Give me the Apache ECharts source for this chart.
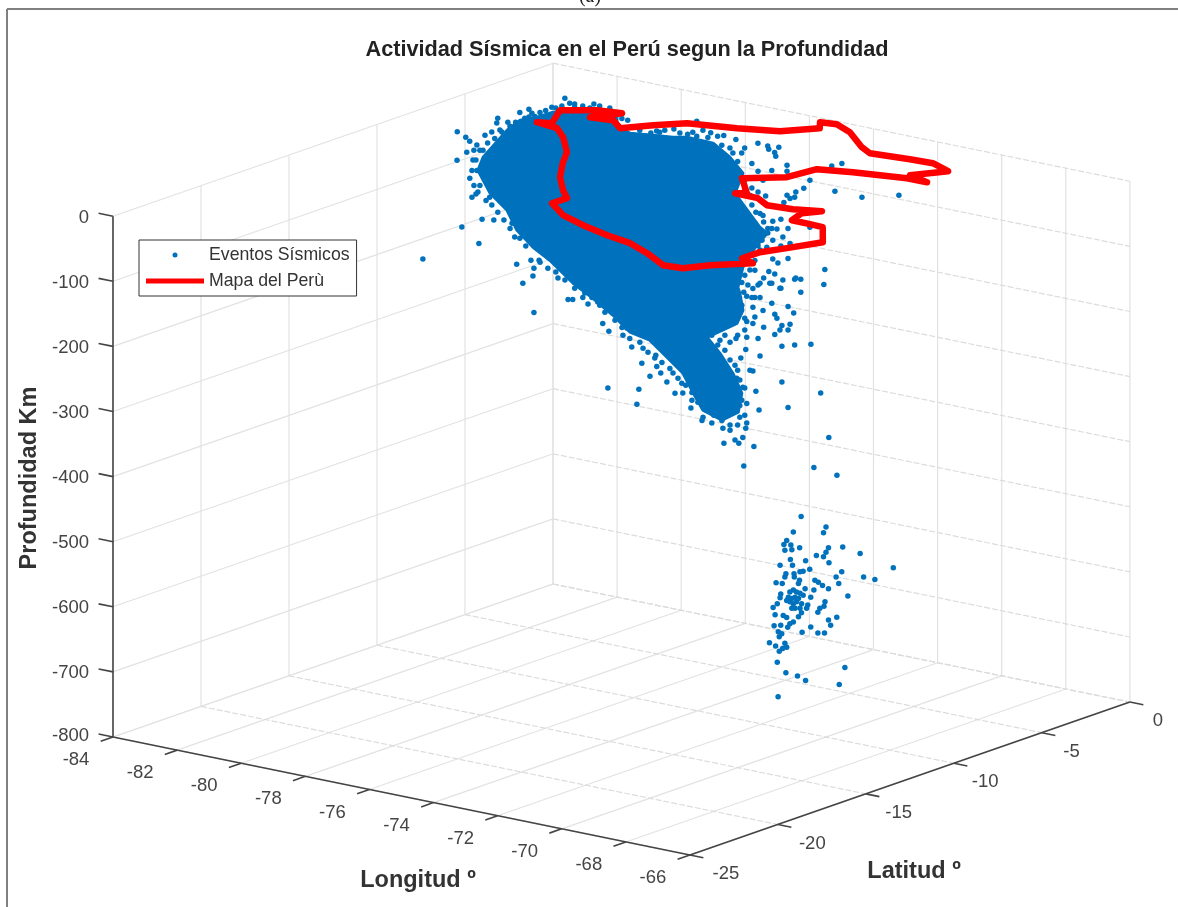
<!DOCTYPE html>
<html><head><meta charset="utf-8">
<style>html,body{margin:0;padding:0;background:#fff}#c{width:1178px;height:907px}</style>
<script src="https://cdn.jsdelivr.net/npm/echarts@6/dist/echarts.min.js"></script>
</head><body><div id="c"></div>
<script>
// Axis ticks
const lonTicks=[-84,-82,-80,-78,-76,-74,-72,-70,-68,-66];
const latTicks=[-25,-20,-15,-10,-5,0];
const depthTicks=[0,-100,-200,-300,-400,-500,-600,-700,-800];

// Peru outline at depth 0: [lon, lat]
const peruOutline=[[-80.98,-6.41],[-80.25,-6.60],[-79.62,-7.40],[-78.70,-8.86],[-78.16,-10.08],[-77.42,-11.58],[-76.63,-12.85],[-76.10,-13.59],[-76.11,-14.42],[-75.22,-15.42],[-74.26,-16.03],[-73.22,-16.55],[-72.32,-16.89],[-71.42,-17.56],[-70.43,-18.46],[-69.87,-18.35],[-69.51,-17.47],[-68.78,-16.36],[-69.27,-16.08],[-69.26,-15.08],[-68.96,-14.10],[-68.59,-12.73],[-69.44,-11.19],[-69.86,-11.15],[-70.44,-11.12],[-70.64,-10.19],[-70.36,-9.56],[-71.04,-9.97],[-71.78,-10.10],[-72.35,-9.57],[-73.08,-9.54],[-72.85,-9.29],[-73.79,-7.85],[-72.97,-6.80],[-72.83,-5.35],[-71.95,-4.90],[-70.55,-4.38],[-69.93,-4.37],[-70.66,-4.01],[-70.14,-2.79],[-70.89,-2.29],[-71.57,-2.36],[-72.69,-2.59],[-73.19,-2.14],[-74.27,-0.85],[-74.98,-0.30],[-75.42,-0.45],[-75.09,-1.07],[-75.70,-2.22],[-76.72,-2.81],[-77.98,-3.35],[-78.53,-4.27],[-79.01,-5.28],[-79.60,-4.60],[-80.22,-4.78],[-79.82,-3.69],[-80.48,-3.91],[-81.21,-4.69],[-80.63,-6.19],[-80.98,-6.41]];

// Boundary of the region where events overlap into solid colour: [lon, lat, depth]
const denseCloudOutline=[[-80.90,-9.91,-40],[-81.53,-8.47,-40],[-81.85,-6.52,-20],[-82.16,-5.22,-20],[-82.00,-4.55,-20],[-81.97,-3.70,-20],[-81.30,-2.99,-20],[-80.71,-2.36,-20],[-79.86,-3.90,-20],[-79.27,-4.24,-20],[-78.70,-3.96,-20],[-78.20,-3.75,-20],[-77.92,-3.45,-20],[-77.07,-3.52,-20],[-75.95,-4.61,-20],[-74.79,-5.98,-20],[-73.82,-8.20,-20],[-72.83,-9.43,-20],[-71.41,-11.18,-20],[-70.93,-11.64,-20],[-73.18,-8.34,-100],[-72.42,-10.30,-100],[-71.39,-12.46,-100],[-71.01,-13.04,-100],[-69.99,-14.72,-100],[-69.37,-16.19,-100],[-69.27,-17.22,-100],[-71.01,-14.90,-150],[-69.86,-16.27,-150],[-70.31,-14.71,-200],[-69.01,-16.57,-200],[-69.84,-15.26,-250],[-69.71,-16.42,-250],[-70.65,-15.79,-250],[-72.00,-13.97,-250],[-71.29,-15.76,-200],[-70.67,-17.80,-150],[-71.97,-16.41,-150],[-72.81,-16.00,-150],[-72.26,-17.97,-100],[-73.61,-16.65,-100],[-74.85,-15.52,-100],[-75.14,-16.32,-60],[-76.20,-15.34,-60],[-77.48,-13.92,-60],[-78.07,-13.41,-40],[-79.36,-12.02,-40]];

// Individual events: [lon, lat, depth]
const northEdgeEvents=[[-84.00,-5.44,-54],[-83.85,-5.23,-63],[-83.77,-5.15,-69],[-83.63,-5.00,-75],[-83.47,-4.83,-60],[-83.34,-4.68,-55],[-83.22,-4.56,-34],[-83.24,-4.58,-41],[-83.02,-4.35,-40],[-82.79,-4.09,-25],[-82.61,-3.90,-20],[-82.61,-3.90,-32],[-82.49,-3.78,-31],[-82.16,-3.42,-17],[-81.90,-3.15,-3],[-81.81,-3.04,-11],[-81.55,-2.77,-15],[-81.33,-2.54,-12],[-80.67,-1.82,-37],[-83.57,-4.94,-83],[-83.18,-4.51,-52],[-83.83,-5.21,-86],
[-83.51,-4.87,-83],[-83.42,-4.77,-72],[-83.28,-4.62,-65],[-83.14,-4.47,-55],[-82.98,-4.30,-46],[-82.87,-4.18,-40],[-82.69,-3.99,-34],[-82.55,-3.84,-26],[-82.39,-3.67,-25],[-82.28,-3.55,-22],[-82.08,-3.34,-18],[-81.96,-3.21,-15],[-81.71,-2.94,-17],[-81.41,-2.62,-18],[-81.22,-2.41,-22],[-81.02,-2.20,-18],[-80.78,-1.95,-34],[-81.22,-2.41,-15],[-81.71,-2.94,-12],[-83.69,-5.06,-83],
[-77.90,-2.94,0],[-78.80,-3.91,-18],[-78.69,-3.78,-15],[-78.53,-3.61,-14],[-78.35,-3.42,-12],[-78.08,-3.13,-20],[-77.90,-2.94,-23],[-77.78,-2.81,-14],[-77.63,-2.64,-18],[-77.49,-2.50,-23],[-77.37,-2.37,-22],[-77.13,-2.12,-28],[-76.70,-1.65,-34],[-76.51,-1.44,-38],[-76.49,-1.42,-43],[-76.29,-1.21,-40],[-76.37,-1.30,-48],[-77.19,-2.18,-49],
[-79.02,-4.14,-14],[-78.63,-3.72,-17],[-78.23,-3.30,-18],[-77.98,-3.02,-17],[-77.68,-2.71,-25],[-77.41,-2.41,-37],[-77.25,-2.24,-41],[-77.02,-1.99,-49],[-76.96,-1.93,-41]];
const eastEdgeEvents=[[-74.37,-4.88,0],[-75.12,-5.68,-8],[-74.84,-5.38,-11],[-74.15,-4.64,-14],[-74.15,-4.64,-23],[-74.72,-5.25,-23],[-74.45,-4.96,-22],[-73.27,-3.70,-15],[-73.07,-3.49,-11],[-73.70,-4.16,-37],[-73.82,-4.29,-49],[-73.21,-3.63,-54],[-72.68,-3.06,-63],[-71.95,-2.29,-60],[-73.98,-4.45,-55],[-74.15,-4.64,-60],[-74.09,-4.58,-65],[-74.21,-4.71,-71],[-74.00,-4.48,-63],[-74.57,-5.09,-61],[-74.84,-5.38,-49],[-74.72,-5.25,-55],[-74.62,-5.15,-37],[-74.62,-5.15,-91],[-74.43,-4.94,-100],[-74.27,-4.77,-97],[-74.45,-4.96,-111],[-74.35,-4.85,-112],[-74.13,-4.62,-111],[-73.70,-4.16,-109],[-74.23,-4.73,-124],[-74.43,-4.94,-129],[-74.55,-5.06,-140],[-74.27,-4.77,-138],[-74.09,-4.58,-134],[-74.13,-4.62,-157],[-74.43,-4.94,-158],[-74.33,-4.83,-164],[-74.78,-5.32,-175],[-74.51,-5.02,-177],[-74.39,-4.90,-181],[-74.61,-5.13,-187],[-74.45,-4.96,-195],[-74.23,-4.73,-190],[-73.98,-4.45,-187],[-73.88,-4.35,-189],[-73.41,-3.84,-174],[-73.43,-3.86,-197],[-74.27,-4.77,-203],[-73.88,-4.35,-209],[-74.72,-5.25,-198],[-74.82,-5.36,-203],[-74.94,-5.49,-215],[-74.78,-5.32,-217],[-74.68,-5.21,-88],[-74.78,-5.32,-103],[-74.53,-5.04,-118],[-74.68,-5.21,-144],[-74.49,-5.00,-195],[-74.68,-5.21,-195],[-74.29,-4.79,-203],[-74.00,-4.48,-189],[-74.84,-5.38,-217],[-74.68,-5.21,-217],
[-74.98,-5.53,-37],[-74.88,-5.42,-60],[-74.98,-5.53,-52],[-74.84,-5.38,-75],[-74.76,-5.30,-86],[-74.61,-5.13,-101],[-74.53,-5.04,-111],[-74.64,-5.17,-129],[-74.72,-5.25,-137],[-74.84,-5.38,-152],[-74.92,-5.46,-163],[-74.98,-5.53,-183],[-75.04,-5.59,-194],[-74.92,-5.46,-198],[-75.00,-5.55,-209],[-74.88,-5.42,-175],[-74.78,-5.32,-160]];
const westEdgeEvents=[[-80.63,-11.59,-6],[-80.32,-11.25,-6],[-80.24,-11.17,-22],[-80.18,-11.11,-45],[-80.34,-11.27,-63],[-80.26,-11.19,-58],[-79.99,-10.90,-63],[-80.14,-11.06,-97],[-79.91,-10.81,-98],[-80.54,-11.48,-109],[-80.20,-11.13,-134],[-79.55,-10.43,-103],[-79.50,-10.37,-124],[-79.46,-10.33,-166],[-79.18,-10.03,-160],[-79.02,-9.86,-160],[-79.12,-9.97,-172],[-79.14,-9.99,-184],[-79.34,-10.20,-195],[-78.65,-9.46,-187],[-78.45,-9.25,-220],[-78.36,-9.15,-220],[-78.16,-8.94,-217],[-79.73,-10.62,-68],[-79.63,-10.52,-72],[-81.30,-12.31,-158],
[-80.26,-11.19,-6],[-80.34,-11.27,-22],[-80.38,-11.32,-34],[-80.30,-11.23,-45],[-80.22,-11.15,-55],[-80.06,-10.98,-68],[-79.95,-10.85,-75],[-79.83,-10.73,-86],[-79.71,-10.60,-98],[-79.59,-10.47,-111],[-79.40,-10.26,-126],[-79.28,-10.14,-138],[-79.00,-9.84,-163],[-78.85,-9.67,-172],[-78.69,-9.51,-178],[-78.51,-9.32,-190],[-78.32,-9.11,-203],[-78.12,-8.90,-210],[-77.98,-8.75,-217]];
const southTailEvents=[[-74.60,-18.20,-117],[-73.54,-17.06,-104],[-73.31,-16.81,-106],[-73.11,-16.60,-114],[-73.25,-16.75,-134],[-73.13,-16.62,-146],[-72.85,-16.33,-152],[-72.78,-16.24,-141],[-72.68,-16.14,-170],[-72.46,-15.90,-172],[-72.48,-15.93,-195],[-72.23,-15.65,-187],[-72.19,-15.61,-200],[-72.32,-15.76,-215],[-72.11,-15.53,-210],[-71.99,-15.40,-224],[-71.87,-15.27,-210],[-73.15,-16.64,-233],[-72.54,-15.99,-235],[-72.58,-16.03,-258],[-71.83,-15.23,-241],[-71.68,-15.06,-241],[-71.70,-15.08,-226],[-71.50,-14.87,-252],[-71.52,-14.89,-264],[-71.28,-14.64,-278],[-71.30,-14.66,-283],[-71.11,-14.45,-287],[-70.89,-14.22,-295],[-70.87,-14.20,-318],[-70.65,-13.97,-313],[-70.58,-13.88,-318],[-70.50,-13.80,-309],[-70.44,-13.74,-295],[-70.42,-13.72,-287],[-70.28,-13.57,-323],[-70.48,-13.78,-353],[-70.75,-14.07,-298],[-70.56,-13.86,-278],[-70.69,-14.01,-257],[-70.42,-13.72,-257],[-70.18,-13.46,-267],[-70.24,-13.53,-238],[-70.50,-13.80,-232],[-70.62,-13.93,-218],[-69.73,-12.98,-224],[-69.61,-12.85,-263],[-68.97,-12.16,-241],[-68.81,-11.99,-309],[-69.10,-12.31,-355],[-68.65,-11.82,-367],[-70.30,-13.59,-207],[-70.36,-13.65,-206],[-70.16,-13.44,-184],[-70.54,-13.84,-187],[-70.44,-13.74,-174],[-69.73,-12.98,-169],[-69.48,-12.71,-167],[-69.16,-12.37,-166],[-70.63,-13.95,-157],[-70.42,-13.72,-155],[-70.20,-13.48,-157],[-69.87,-13.13,-151],[-69.77,-13.02,-144],[-69.61,-12.85,-144],[-69.57,-12.81,-135],[-69.73,-12.98,-137],[-70.09,-13.36,-140],[-70.30,-13.59,-134],[-70.42,-13.72,-131],[-69.83,-13.08,-126],[-69.87,-13.13,-120],[-70.10,-13.38,-114],[-70.26,-13.55,-124],[-70.30,-13.59,-109],[-69.93,-13.19,-103],[-69.61,-12.85,-108],[-69.50,-12.73,-118],
[-73.35,-16.85,-101],[-73.21,-16.70,-117],[-73.01,-16.49,-129],[-72.87,-16.35,-140],[-72.72,-16.18,-157],[-72.52,-15.97,-163],[-72.36,-15.80,-178],[-72.21,-15.63,-183],[-72.09,-15.50,-194],[-71.93,-15.34,-203],[-71.77,-15.17,-218],[-71.62,-15.00,-229],[-71.50,-14.87,-240],[-71.38,-14.75,-255],[-71.22,-14.58,-267],[-71.07,-14.41,-275],[-70.91,-14.24,-283],[-70.75,-14.07,-290],[-70.60,-13.91,-290],[-70.46,-13.76,-275],[-70.52,-13.82,-252],[-70.46,-13.76,-233],[-70.60,-13.91,-206],[-70.75,-14.07,-190],[-70.46,-13.76,-144],[-70.46,-13.76,-126],[-70.60,-13.91,-152],[-70.75,-14.07,-163],[-70.85,-14.18,-152],[-70.99,-14.33,-167],
[-70.79,-14.12,-267],[-70.65,-13.97,-267],[-70.56,-13.86,-260],[-70.85,-14.18,-229],[-70.56,-13.86,-221],[-70.65,-13.97,-198],[-70.85,-14.18,-175],[-70.95,-14.28,-160],[-71.11,-14.45,-152],[-71.34,-14.70,-144],[-70.75,-14.07,-129],[-70.65,-13.97,-121],[-70.52,-13.82,-106],[-70.85,-14.18,-117]];
const deepEvents=[[-71.14,-9.32,-479],[-70.65,-8.80,-495],[-70.70,-8.85,-504],[-71.29,-9.49,-503],[-71.42,-9.63,-516],[-71.48,-9.68,-522],[-71.34,-9.54,-523],[-71.46,-9.66,-531],[-71.32,-9.52,-530],[-71.17,-9.35,-527],[-70.60,-8.75,-527],[-70.32,-8.45,-526],[-70.65,-8.80,-534],[-70.70,-8.85,-541],[-70.84,-9.00,-539],[-69.98,-8.08,-536],[-71.35,-9.55,-545],[-71.05,-9.23,-547],[-70.59,-8.74,-550],[-71.55,-9.77,-554],[-71.31,-9.50,-554],[-70.97,-9.14,-560],[-71.10,-9.28,-563],[-71.16,-9.35,-564],[-70.34,-8.47,-564],[-71.44,-9.64,-567],[-71.46,-9.66,-572],[-71.28,-9.47,-567],[-71.27,-9.47,-572],[-69.33,-7.38,-558],[-70.45,-8.59,-572],[-69.91,-8.01,-572],[-69.69,-7.77,-576],[-70.40,-8.53,-582],[-70.87,-9.03,-577],[-70.80,-8.96,-580],[-70.72,-8.87,-585],[-70.60,-8.75,-590],[-71.63,-9.85,-581],[-71.51,-9.72,-582],[-71.17,-9.36,-577],[-71.19,-9.38,-582],[-70.89,-9.05,-592],[-71.06,-9.24,-590],[-70.22,-8.34,-601],[-70.95,-9.12,-603],[-71.54,-9.75,-598],[-71.55,-9.77,-604],[-71.61,-9.82,-613],[-71.69,-9.91,-619],[-70.67,-8.82,-610],[-70.69,-8.84,-617],[-70.77,-8.93,-620],[-70.81,-8.97,-626],[-71.01,-9.18,-615],[-71.03,-9.21,-620],[-71.65,-9.87,-630],[-71.49,-9.70,-631],[-71.42,-9.63,-634],[-71.13,-9.32,-627],[-71.19,-9.38,-633],[-70.44,-8.57,-634],[-70.60,-8.75,-638],[-70.56,-8.70,-646],[-71.36,-9.56,-644],[-71.29,-9.49,-641],[-71.40,-9.61,-649],[-71.67,-9.89,-647],[-71.54,-9.75,-646],[-70.95,-9.12,-649],[-71.59,-9.80,-656],[-71.52,-9.73,-659],[-71.12,-9.30,-657],[-70.81,-8.97,-658],[-70.68,-8.83,-658],[-71.57,-9.78,-664],[-71.76,-9.99,-673],[-71.64,-9.86,-678],[-71.46,-9.66,-674],[-71.42,-9.63,-680],[-71.50,-9.71,-682],[-71.57,-9.78,-686],[-71.61,-9.82,-703],[-71.44,-9.64,-719],[-71.21,-9.40,-724],[-71.05,-9.23,-731],[-70.28,-8.40,-711],[-70.39,-8.52,-737],[-71.59,-9.81,-756],[-71.36,-9.56,-595],[-71.29,-9.49,-592],[-71.23,-9.42,-595],[-71.16,-9.35,-597],[-71.39,-9.59,-603],[-71.32,-9.52,-605],[-71.26,-9.45,-603],[-71.19,-9.38,-605],[-71.10,-9.28,-600],[-71.36,-9.56,-610],[-71.29,-9.49,-613],[-71.23,-9.42,-610],[-71.13,-9.31,-613],[-71.32,-9.52,-620],[-71.26,-9.45,-620],[-71.16,-9.35,-620],[-71.42,-9.63,-608]];

// Orthographic view of the lon/lat/depth box onto the flat chart plane
function project(lon,lat,depth){
  const L=lon+84,A=lat+25,Z=depth+800;
  return [113+32.05*L+17.6*A, 737+6.56*L-6.12*A-0.651*Z];
}
const P=t=>project(t[0],t[1],t[2]);
const allEvents=[].concat(northEdgeEvents,eastEdgeEvents,westEdgeEvents,southTailEvents,deepEvents);

const wallSolid=[],wallDashed=[],axisSegs=[],labels=[];
const seg=(arr,a,b)=>{const p=P(a),q=P(b);arr.push([p[0],p[1],q[0],q[1]]);};
const LON0=-84,LON1=-66,LAT0=-25,LAT1=0,Z0=-800,Z1=0;
// walls and floor
latTicks.forEach(v=>{ seg(wallSolid,[LON0,v,Z0],[LON0,v,Z1]); seg(wallDashed,[LON0,v,Z0],[LON1,v,Z0]); });
lonTicks.forEach(v=>{ seg(wallSolid,[v,LAT1,Z0],[v,LAT1,Z1]); seg(wallSolid,[v,LAT0,Z0],[v,LAT1,Z0]); });
depthTicks.forEach(v=>{ seg(wallSolid,[LON0,LAT0,v],[LON0,LAT1,v]); seg(wallDashed,[LON0,LAT1,v],[LON1,LAT1,v]); });
// axes
seg(axisSegs,[LON0,LAT0,Z0],[LON0,LAT0,Z1]);
seg(axisSegs,[LON0,LAT0,Z0],[LON1,LAT0,Z0]);
seg(axisSegs,[LON1,LAT0,Z0],[LON1,LAT1,Z0]);
depthTicks.forEach(v=>{ seg(axisSegs,[LON0,LAT0,v],[LON0-0.45,LAT0,v]);
  const p=P([LON0,LAT0,v]); labels.push([p[0],p[1],String(v),-24,v===-800?-1:1.5,'right']); });
lonTicks.forEach(v=>{ seg(axisSegs,[v,LAT0,Z0],[v,LAT0-0.7,Z0]);
  const p=P([v,LAT0,Z0]); labels.push([p[0],p[1],String(v),-37,23,'center']); });
latTicks.forEach(v=>{ seg(axisSegs,[LON1,v,Z0],[LON1+0.42,v,Z0]);
  const p=P([LON1,v,Z0]); labels.push([p[0],p[1],String(v),36-(v+25)*0.32,19,'center']); });

const segRender=(color,width,dash)=>(params,api)=>{
  const a=api.coord([api.value(0),api.value(1)]),b=api.coord([api.value(2),api.value(3)]);
  return {type:'line',shape:{x1:a[0],y1:a[1],x2:b[0],y2:b[1]},style:{stroke:color,lineWidth:width,lineDash:dash||null},silent:true};
};
const segSeries=(data,color,width,dash,z)=>({type:'custom',data,z,silent:true,clip:false,renderItem:segRender(color,width,dash),encode:{x:[0,2],y:[1,3]}});

const chart=echarts.init(document.getElementById('c'),null,{renderer:'canvas'});
chart.setOption({
  animation:false,backgroundColor:'#fff',
  title:{text:'Actividad Sísmica en el Perú segun la Profundidad',left:622,top:34,textAlign:'center',
    textStyle:{fontFamily:'Liberation Sans',fontSize:21.7,fontWeight:'bold',color:'#222'}},
  grid:{left:0,top:0,width:1178,height:907,containLabel:false,show:false},
  xAxis:{type:'value',min:0,max:1178,show:false},
  yAxis:{type:'value',min:0,max:907,inverse:true,show:false},
  legend:{left:139,top:240,orient:'vertical',align:'left',padding:[6,7,6,7],itemGap:8,itemWidth:58,itemHeight:5,
    backgroundColor:'#fff',borderColor:'#333',borderWidth:1,selectedMode:false,
    textStyle:{fontFamily:'Liberation Sans',fontSize:17.7,color:'#333'},
    data:[{name:'Eventos Sísmicos',icon:'circle'},{name:'Mapa del Perù',icon:'rect'}]},
  series:[
    segSeries(wallSolid,'#e2e2e2',1.2,null,1),
    segSeries(wallDashed,'#dcdcdc',1.2,[6,2],1),
    segSeries(axisSegs,'#444444',1.6,null,2),
    {type:'custom',z:2,silent:true,clip:false,data:labels,encode:{x:0,y:1},
      renderItem:(params,api)=>{
        const row=labels[params.dataIndex],c=api.coord([row[0],row[1]]);
        return {type:'text',x:c[0]+row[3],y:c[1]+row[4],silent:true,
          style:{text:row[2],align:row[5],verticalAlign:'middle',fill:'#444',font:'18.5px "Liberation Sans"'}};
      }},
    {name:'Eventos Sísmicos',type:'scatter',z:3,silent:true,symbol:'circle',symbolSize:5.5,large:false,
      itemStyle:{color:'#0072BD',opacity:1},data:allEvents.map(P)},
    {type:'custom',name:'Eventos Sísmicos',z:3,silent:true,clip:false,data:[[0,0]],
      renderItem:(params,api)=>({type:'polygon',silent:true,
        shape:{points:denseCloudOutline.map(t=>api.coord(P(t)))},style:{fill:'#0072BD',stroke:'#0072BD',lineWidth:3,lineJoin:'round'}})},
    {name:'Mapa del Perù',type:'line',z:4,silent:true,symbol:'none',showSymbol:false,
      lineStyle:{color:'#ff0000',width:6.5,join:'round',cap:'round'},itemStyle:{color:'#ff0000'},
      data:peruOutline.map(t=>project(t[0],t[1],0))}
  ],
  graphic:[
    {type:'line',shape:{x1:7,y1:9,x2:1178,y2:9},style:{stroke:'#808080',lineWidth:2},silent:true},
    {type:'line',shape:{x1:7,y1:9,x2:7,y2:907},style:{stroke:'#808080',lineWidth:2},silent:true},
    {type:'text',x:590,y:-3,style:{text:'(a)',font:'20px "Liberation Serif"',fill:'#222',align:'center',verticalAlign:'middle'},silent:true},
    {type:'text',x:418,y:881,style:{text:'Longitud º',font:'bold 23.5px "Liberation Sans"',fill:'#333',align:'center',verticalAlign:'middle'},silent:true},
    {type:'text',x:914,y:872,style:{text:'Latitud º',font:'bold 23.5px "Liberation Sans"',fill:'#333',align:'center',verticalAlign:'middle'},silent:true},
    {type:'text',x:30,y:478,rotation:Math.PI/2,style:{text:'Profundidad Km',font:'bold 23.5px "Liberation Sans"',fill:'#333',align:'center',verticalAlign:'middle'},silent:true}
  ]
});
</script></body></html>
